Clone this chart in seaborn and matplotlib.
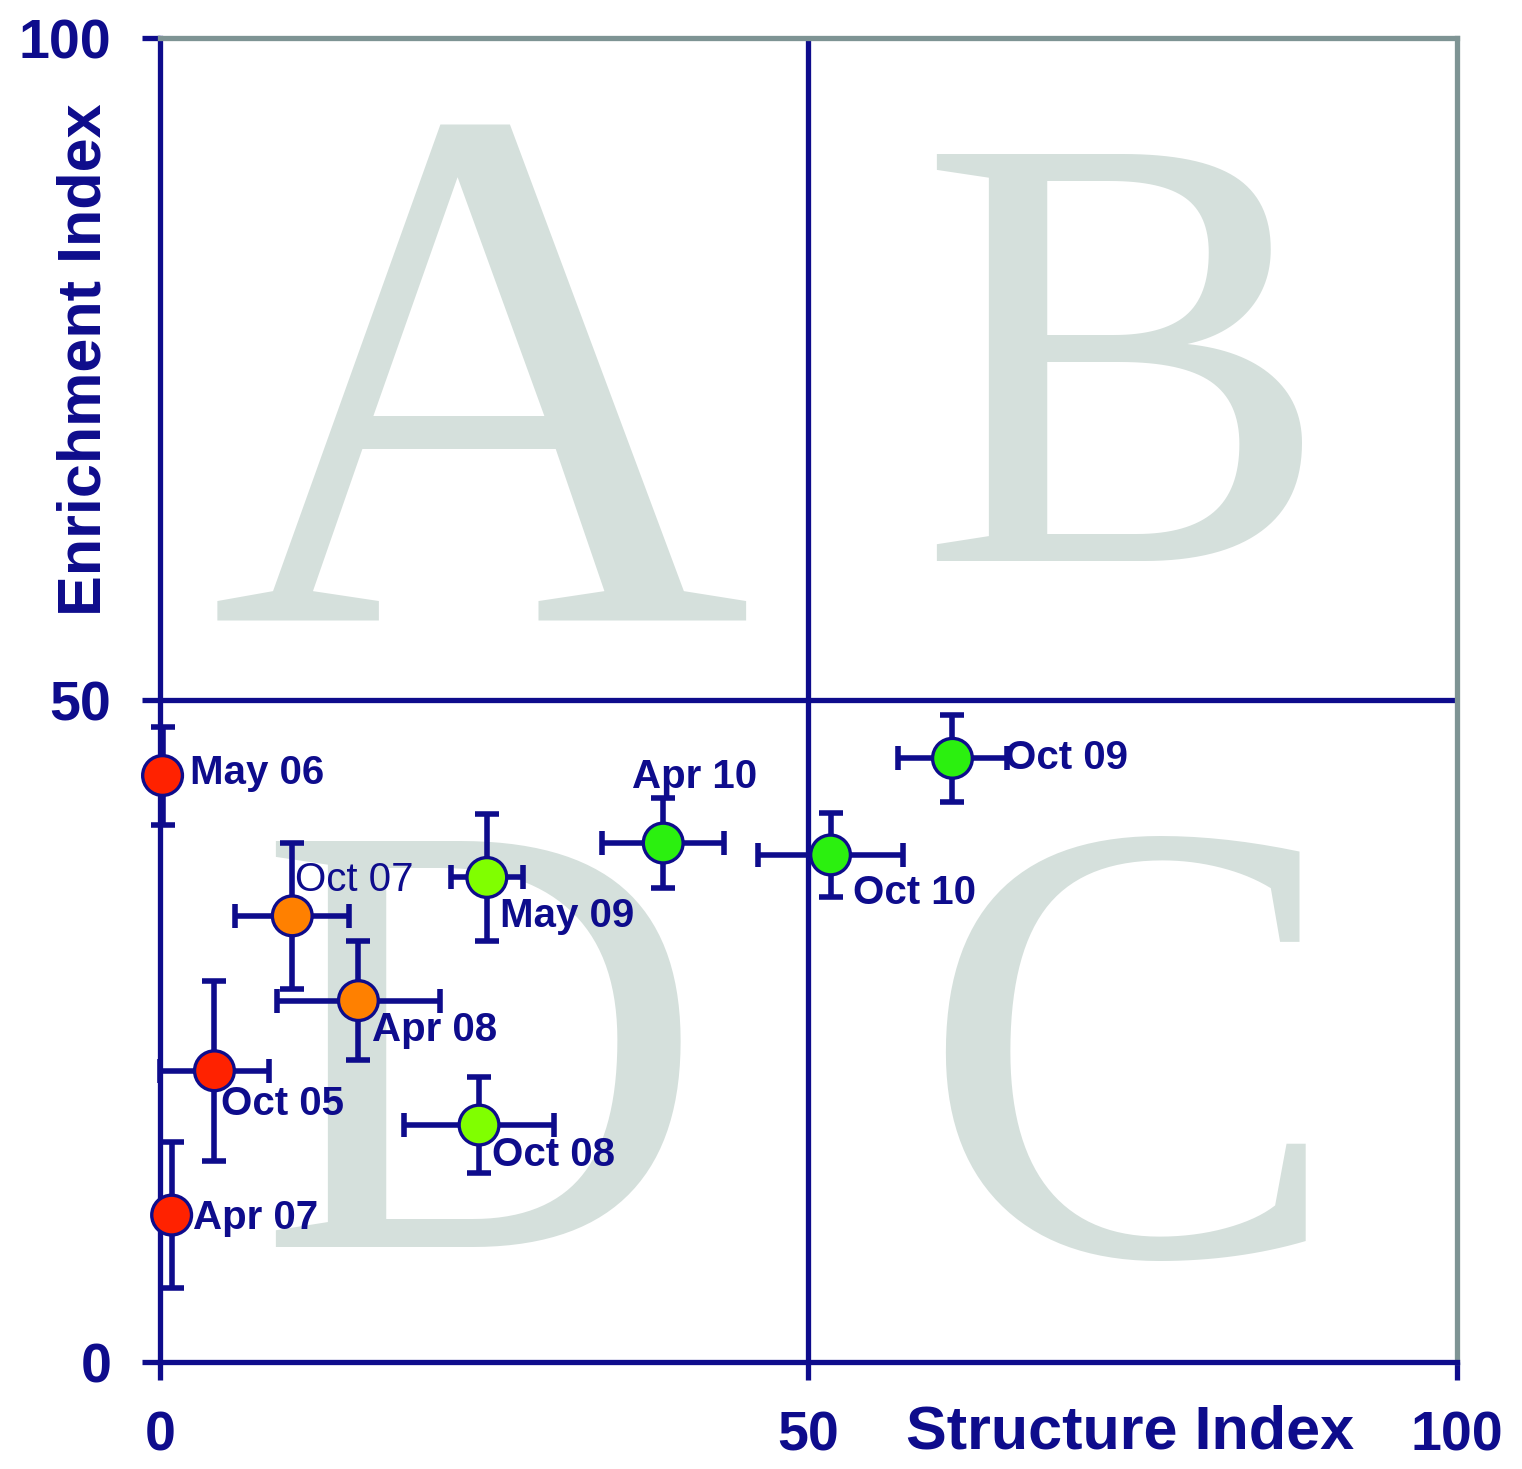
import matplotlib
matplotlib.use("Agg")
import matplotlib.pyplot as plt
import seaborn as sns
import pandas as pd

# Sampling dates and nematode faunal indices (mean ± SE)
labels = ["Oct 05", "May 06", "Apr 07", "Oct 07", "Apr 08",
          "Oct 08", "May 09", "Oct 09", "Apr 10", "Oct 10"]
structure = [4.2, 0.2, 0.9, 10.2, 15.3, 24.6, 25.2, 61.1, 38.8, 51.7]
enrichment = [22.0, 44.3, 11.1, 33.7, 27.3, 17.9, 36.6, 45.6, 39.2, 38.3]
structure_err = [4.2, 0.0, 0.0, 4.4, 6.3, 5.8, 2.8, 4.2, 4.7, 5.6]
enrichment_err = [6.8, 3.7, 5.5, 5.5, 4.5, 3.6, 4.8, 3.3, 3.4, 3.2]
point_colors = ["#FF2200", "#FF2200", "#FF2200", "#FF8000", "#FF8000",
                "#80FF00", "#80FF00", "#2BF00F", "#2BF00F", "#2BF00F"]
# label offsets (pixels) from each marker
label_dx = [7, 27, 21, 3, 14, 13, 13, 53, -31, 22]
label_dy = [-33, 3, -3, 36, -29, -30, -39, 0, 66, -38]
label_weight = ["bold"] * 10
label_weight[3] = "normal"

quadrants = ["A", "B", "C", "D"]
ticks = [0, 50, 100]

NAVY = "#0E0C8C"
FAINT = "#D5E0DC"

df = pd.DataFrame({"label": labels, "SI": structure, "EI": enrichment})

sns.set_style("white")
plt.rcParams["font.family"] = ["Liberation Sans", "DejaVu Sans"]

fig = plt.figure(figsize=(15.22, 14.69), dpi=100)
ax = fig.add_axes([0.1051, 0.0728, 0.8522, 0.9013])
ax.set_xlim(0, 100)
ax.set_ylim(0, 100)

# Quadrant letters behind everything
letter_specs = [(24.7, 56.0, 540), (74.4, 60.6, 446), (74.8, 8.1, 455), (24.7, 8.8, 446)]
for letter, (lx, ly, fs) in zip(quadrants, letter_specs):
    ax.text(lx, ly, letter, fontsize=fs, color=FAINT, ha="center", va="baseline",
            family="Liberation Serif", zorder=0)

# Quadrant dividers
ax.axvline(50, color=NAVY, lw=3.8, zorder=1)
ax.axhline(50, color=NAVY, lw=3.8, zorder=1)

# Error bars
ax.errorbar(structure, enrichment, xerr=structure_err, yerr=enrichment_err,
            fmt="none", ecolor=NAVY, elinewidth=4.0, capsize=8.5, capthick=4.0,
            zorder=3, clip_on=False)

# Points
sns.scatterplot(data=df, x="SI", y="EI", hue="label", palette=point_colors,
                s=820, edgecolor=NAVY, linewidth=2.4, legend=False, zorder=5,
                clip_on=False, ax=ax)

for lab, x, y, dx, dy, w in zip(labels, structure, enrichment, label_dx, label_dy, label_weight):
    ax.annotate(lab, (x, y), xytext=(dx, dy), textcoords="offset pixels",
                ha="left", va="center", fontsize=29, fontweight=w, color=NAVY,
                zorder=6)

# Axes styling
for side in ["left", "bottom"]:
    ax.spines[side].set_color(NAVY)
    ax.spines[side].set_linewidth(3.8)
for side in ["top", "right"]:
    ax.spines[side].set_color("#7E9494")
    ax.spines[side].set_linewidth(3.8)
    ax.spines[side].set_visible(True)

ax.set_xticks(ticks)
ax.set_yticks(ticks)
ax.tick_params(axis="both", direction="out", length=13, width=3.8, color=NAVY,
               labelsize=40, labelcolor=NAVY, bottom=True, left=True)
ax.tick_params(axis="y", pad=22)
ax.tick_params(axis="x", pad=22)
for t in ax.get_xticklabels() + ax.get_yticklabels():
    t.set_fontweight("bold")

ax.set_xlabel("")
ax.set_ylabel("")
ax.text(0.748, -0.0535, "Structure Index", transform=ax.transAxes, ha="center",
        va="center", fontsize=44, fontweight="bold", color=NAVY)
ax.text(-0.058, 0.757, "Enrichment Index", transform=ax.transAxes, ha="center",
        va="center", rotation=90, fontsize=44, fontweight="bold", color=NAVY)

fig.savefig("out.png", dpi=100, facecolor="white")
